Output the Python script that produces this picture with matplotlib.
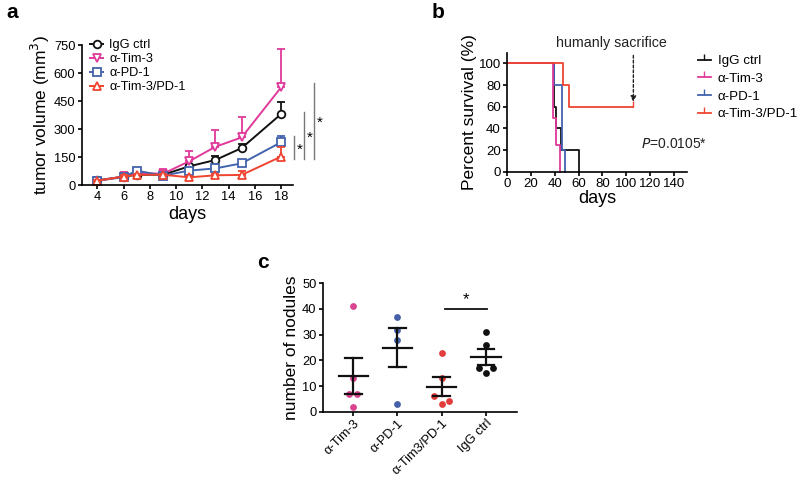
import matplotlib
matplotlib.use("Agg")
import matplotlib.pyplot as plt
import numpy as np
from matplotlib.lines import Line2D

plt.rcParams['font.family'] = ['Liberation Sans', 'DejaVu Sans']

# ---------------- data ----------------
days = [4, 6, 7, 9, 11, 13, 15, 18]
groups_a = ["IgG ctrl", "α-Tim-3", "α-PD-1", "α-Tim-3/PD-1"]
vol_igg = [25, 45, 55, 55, 100, 134, 198, 380]
err_igg = [3, 10, 5, 7, 10, 20, 22, 66]
vol_tim3 = [23, 45, 65, 60, 127, 205, 255, 523]
err_tim3 = [4, 25, 10, 26, 53, 90, 108, 206]
vol_pd1 = [23, 42, 77, 50, 77, 89, 116, 229]
err_pd1 = [4, 8, 8, 8, 8, 6, 6, 35]
vol_combo = [23, 45, 55, 55, 41, 52, 54, 152]
err_combo = [4, 10, 5, 5, 5, 8, 23, 53]
sig_a_ranges = [(139, 262), (139, 391), (139, 546)]

surv_igg_t = [0, 39.5, 41, 45, 60]
surv_igg_p = [100, 60, 40, 20, 0]
surv_tim3_t = [0, 39, 41, 44.5]
surv_tim3_p = [100, 50, 25, 0]
surv_pd1_t = [0, 39.5, 46, 49]
surv_pd1_p = [100, 80, 20, 0]
surv_combo_t = [0, 46.7, 51.8, 106]
surv_combo_p = [100, 80, 60, 60]
p_text = "=0.0105*"

cats_c = ["α-Tim-3", "α-PD-1", "α-Tim3/PD-1", "IgG ctrl"]
nod_tim3 = [41, 13, 7, 7, 2]
nod_pd1 = [37, 32, 28, 3]
nod_combo = [23, 13, 6, 3, 4]
nod_igg = [31, 26, 17, 17, 15]

# colours
C_BLACK = "#111111"
C_PINK = "#e0399a"
C_BLUE = "#4263ad"
C_RED = "#ee4430"
C_DOT_PINK = "#d9438f"
C_DOT_BLUE = "#4560a8"
C_DOT_RED = "#e23c3c"

fig = plt.figure(figsize=(8, 4.79), dpi=100)
W, H = 800, 479

def axes_px(l, r, b, t):
    return fig.add_axes([l / W, 1 - b / H, (r - l) / W, (b - t) / H])

def style(ax):
    for s in ("top", "right"):
        ax.spines[s].set_visible(False)
    for s in ("left", "bottom"):
        ax.spines[s].set_linewidth(1.2)
    ax.tick_params(direction="out", width=1.2, length=3, pad=1.5)

# ---------------- panel a ----------------
axa = axes_px(81.7, 293, 185, 45)
style(axa)
series = [
    (vol_igg, err_igg, C_BLACK, "o"),
    (vol_tim3, err_tim3, C_PINK, "v"),
    (vol_pd1, err_pd1, C_BLUE, "s"),
    (vol_combo, err_combo, C_RED, "^"),
]
handles = []
for (v, e, c, m), name in zip(series, groups_a):
    axa.errorbar(days, v, yerr=[np.zeros(len(e)), e], color=c, capsize=3,
                 elinewidth=1.3, capthick=1.3, fmt="none", clip_on=False)
    h, = axa.plot(days, v, color=c, lw=1.4, marker=m, markersize=5.5,
                  markerfacecolor="white", markeredgewidth=1.3, clip_on=False,
                  label=name)
    handles.append(h)
axa.set_xlim(2.81, 18.91)
axa.set_ylim(0, 750)
axa.set_xticks([4, 6, 8, 10, 12, 14, 16, 18])
axa.set_yticks([0, 150, 300, 450, 600, 750])
axa.tick_params(labelsize=9.3)
axa.set_xlabel("days", fontsize=13, labelpad=2)
axa.set_ylabel("tumor volume (mm$^3$)", fontsize=12.5, labelpad=1)
axa.legend(handles=handles, loc="upper left", bbox_to_anchor=(0.04, 1.04),
           frameon=False, fontsize=9.2, handlelength=1.0, handletextpad=0.5,
           labelspacing=0.15, borderaxespad=0, borderpad=0)
for i, (y0, y1) in enumerate(sig_a_ranges):
    xx = 19.0 + 0.77 * i
    axa.plot([xx, xx], [y0, y1], color="#777777", lw=1.0, clip_on=False)
    axa.text(xx + 0.4, (y0 + y1) / 2 - 10, "*", fontsize=11, ha="center",
             va="center", clip_on=False)

# ---------------- panel b ----------------
axb = axes_px(507, 687, 171.7, 52.6)
style(axb)
surv = [
    (surv_igg_t, surv_igg_p, C_BLACK, "IgG ctrl"),
    (surv_pd1_t, surv_pd1_p, C_BLUE, "α-PD-1"),
    (surv_tim3_t, surv_tim3_p, C_PINK, "α-Tim-3"),
    (surv_combo_t, surv_combo_p, C_RED, "α-Tim-3/PD-1"),
]
for t, p, c, name in surv:
    tt = list(t)
    pp = list(p)
    if pp[-1] == 0:
        tt.append(tt[-1] + 0.01)
        pp.append(0)
    axb.step(tt, pp, where="post", color=c, lw=1.3, clip_on=False)
# censor tick at end of combo
axb.plot([surv_combo_t[-1]], [surv_combo_p[-1]], marker=2, color=C_RED,
         markersize=4, mew=1.0)
axb.set_xlim(0, 151)
axb.set_ylim(0, 110)
axb.set_xticks(range(0, 141, 20))
axb.set_yticks(range(0, 101, 20))
axb.tick_params(labelsize=9.5)
axb.set_xlabel("days", fontsize=13, labelpad=0)
axb.set_ylabel("Percent survival (%)", fontsize=12.5, labelpad=1)
axb.annotate("", xy=(106, 62), xytext=(106, 110),
             arrowprops=dict(arrowstyle="-|>", linestyle=(0, (2, 1.5)),
                             color="#222222", lw=1.0, mutation_scale=8),
             annotation_clip=False)
axb.text(88, 119, "humanly sacrifice", fontsize=10.3, ha="center",
         va="center", color="#222222", clip_on=False)
axb.text(112, 26, "$P$" + p_text, fontsize=10, ha="left", va="center",
         color="#222222")
leg_handles_b = []
for name, c in [("IgG ctrl", C_BLACK), ("α-Tim-3", C_PINK),
                ("α-PD-1", C_BLUE), ("α-Tim-3/PD-1", C_RED)]:
    leg_handles_b.append(Line2D([], [], color=c, lw=1.3, marker=2,
                                markersize=4, mew=1.0, label=name))
axb.legend(handles=leg_handles_b, loc="upper left", bbox_to_anchor=(1.06, 0.98),
           frameon=False, fontsize=9.6, handlelength=1.0, handletextpad=0.5,
           labelspacing=0.4, borderaxespad=0, borderpad=0)

# ---------------- panel c ----------------
axc = axes_px(322.7, 517, 411.7, 283.3)
style(axc)
nod_data = [nod_tim3, nod_pd1, nod_combo, nod_igg]
dot_colors = [C_DOT_PINK, C_DOT_BLUE, C_DOT_RED, C_BLACK]
# horizontal offsets for overlapping dots (layout only)
offsets = [[0, 0, -0.09, 0.09, 0],
           [0, 0, 0, 0],
           [0, 0, -0.17, 0, 0.17],
           [0, 0, -0.165, 0.165, 0]]
for i, (vals, col, off) in enumerate(zip(nod_data, dot_colors, offsets)):
    vals = np.array(vals, dtype=float)
    axc.scatter(i + np.array(off), vals, s=24, color=col, zorder=2,
                linewidths=0)
    m = vals.mean()
    sem = vals.std(ddof=1) / np.sqrt(len(vals))
    axc.plot([i - 0.33, i + 0.33], [m, m], color=C_BLACK, lw=1.6, zorder=3)
    axc.plot([i, i], [m - sem, m + sem], color=C_BLACK, lw=1.6, zorder=3)
    for yy in (m - sem, m + sem):
        axc.plot([i - 0.19, i + 0.19], [yy, yy], color=C_BLACK, lw=1.6,
                 zorder=3)
axc.plot([2.07, 3.02], [40, 40], color=C_BLACK, lw=1.3)
axc.text(2.55, 43.5, "*", fontsize=12, ha="center", va="center")
axc.set_xlim(-0.69, 3.70)
axc.set_ylim(0, 50)
axc.set_yticks(range(0, 51, 10))
axc.set_xticks(range(4))
axc.set_xticklabels(cats_c, rotation=45, ha="right", rotation_mode="anchor",
                    fontsize=9.3)
axc.tick_params(axis="y", labelsize=9.3)
axc.tick_params(axis="x", pad=1)
axc.set_ylabel("number of nodules", fontsize=12.5, labelpad=2)

# panel letters
fig.text(12 / W, 1 - 12 / H, "a", fontsize=15, fontweight="bold",
         ha="center", va="center")
fig.text(438 / W, 1 - 12 / H, "b", fontsize=15, fontweight="bold",
         ha="center", va="center")
fig.text(263 / W, 1 - 263 / H, "c", fontsize=15, fontweight="bold",
         ha="center", va="center")

fig.savefig("out.png", dpi=100)
